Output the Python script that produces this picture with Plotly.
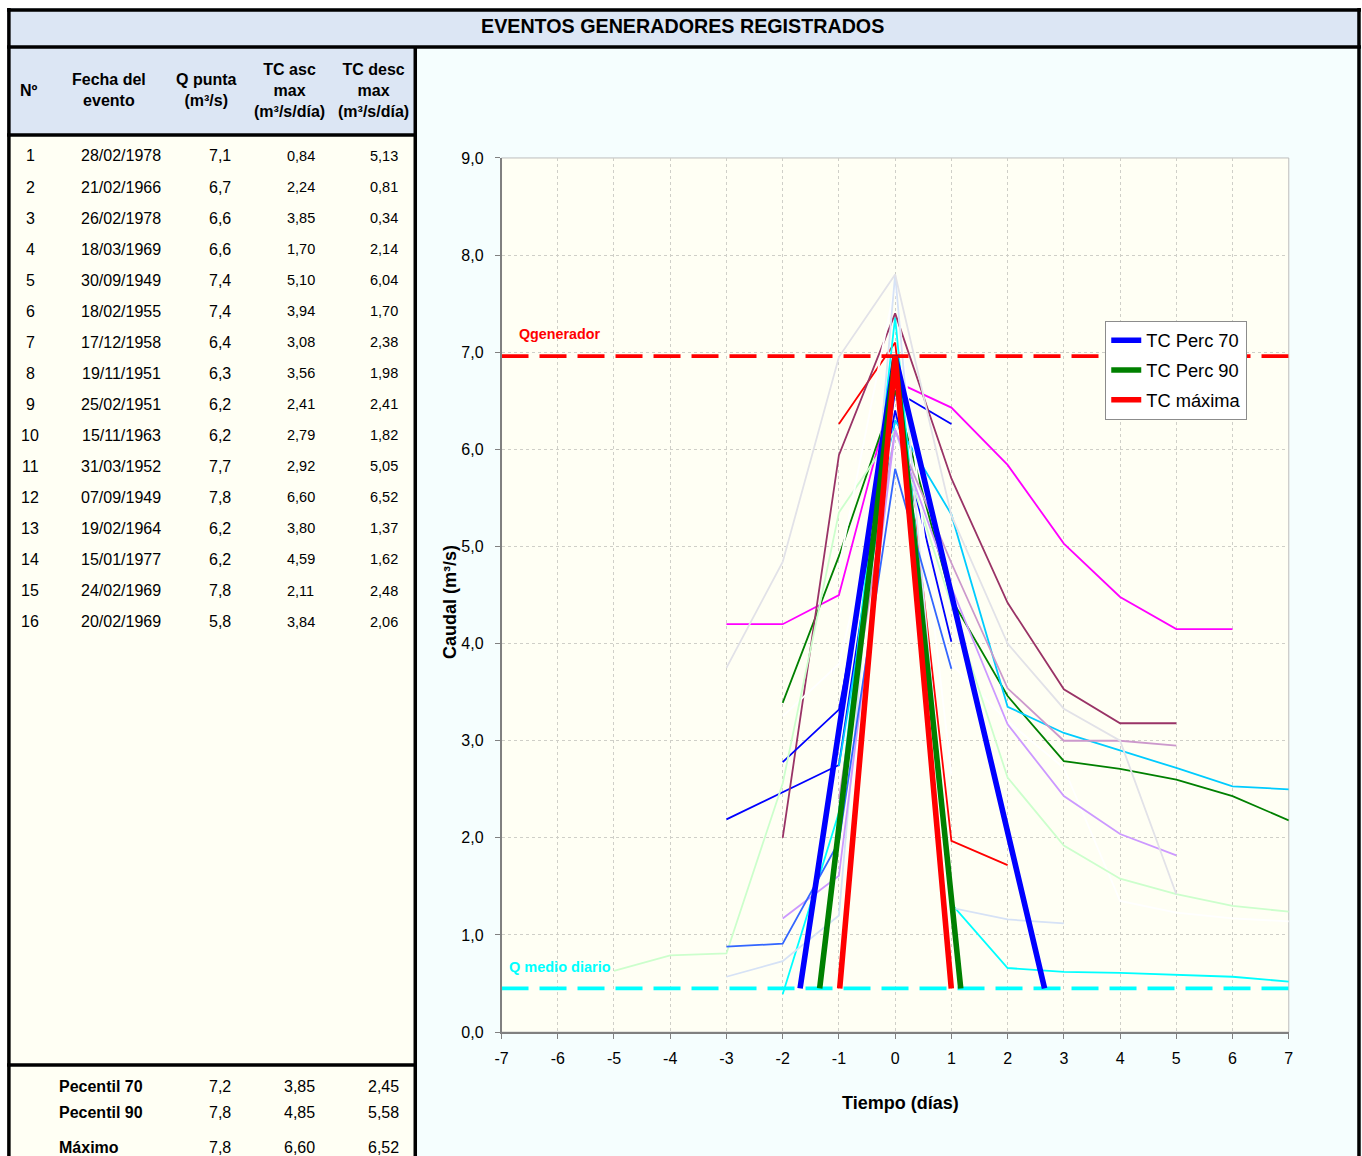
import plotly.graph_objects as go

# The photographed image maps page pixels p -> (p + 8) * (1362/1378, 1156/1172).
# All positions below are given in target-image pixels and converted to page pixels.
SX, SY = 1362 / 1378, 1156 / 1172
PAD = 8
W, H = 1370, 1164  # figure size (page px), figure placed at page (0, 0)
FONT = "Liberation Sans, Arial, sans-serif"

# ---------------- table data ----------------
nums = [1, 2, 3, 4, 5, 6, 7, 8, 9, 10, 11, 12, 13, 14, 15, 16]
fechas = ["28/02/1978", "21/02/1966", "26/02/1978", "18/03/1969", "30/09/1949", "18/02/1955",
          "17/12/1958", "19/11/1951", "25/02/1951", "15/11/1963", "31/03/1952", "07/09/1949",
          "19/02/1964", "15/01/1977", "24/02/1969", "20/02/1969"]
q_punta = [7.1, 6.7, 6.6, 6.6, 7.4, 7.4, 6.4, 6.3, 6.2, 6.2, 7.7, 7.8, 6.2, 6.2, 7.8, 5.8]
tc_asc = [0.84, 2.24, 3.85, 1.70, 5.10, 3.94, 3.08, 3.56, 2.41, 2.79, 2.92, 6.60, 3.80, 4.59, 2.11, 3.84]
tc_desc = [5.13, 0.81, 0.34, 2.14, 6.04, 1.70, 2.38, 1.98, 2.41, 1.82, 5.05, 6.52, 1.37, 1.62, 2.48, 2.06]

stat_names = ["Pecentil 70", "Pecentil 90", "Máximo"]
stat_q = [7.2, 7.8, 7.8]
stat_asc = [3.85, 4.85, 6.60]
stat_desc = [2.45, 5.58, 6.52]

q_generador = 6.96
q_medio = 0.45

# ---------------- event hydrographs (t in days, Q in m3/s) ----------------
ev1_t = [-1, 0, 1, 2];                       ev1_q = [6.26, 7.1, 1.97, 1.72]
ev2_t = [-3, -2, -1, 0, 1, 2, 3, 4, 5, 6];   ev2_q = [4.2, 4.2, 4.5, 6.7, 6.43, 5.84, 5.03, 4.48, 4.15, 4.15]
ev3_t = [-3, -2, -1, 0, 1];                  ev3_q = [2.19, 2.47, 2.75, 6.6, 6.26]
ev4_t = [-2, -1, 0, 1, 2, 3, 4, 5, 6, 7];    ev4_q = [3.39, 4.9, 6.6, 4.46, 3.46, 2.79, 2.71, 2.6, 2.43, 2.18]
ev5_t = [-2, -1, 0, 1, 2, 3, 4, 5, 6, 7];    ev5_q = [0.39, 2.26, 7.36, 1.32, 0.66, 0.62, 0.61, 0.59, 0.57, 0.52]
ev6_t = [-2, -1, 0, 1, 2, 3, 4, 5];          ev6_q = [2.0, 5.94, 7.4, 5.7, 4.42, 3.53, 3.18, 3.18]
ev7_t = [-2, -1, 0, 1];                      ev7_q = [2.78, 3.32, 6.4, 4.02]
ev8_t = [-1, 0, 1, 2, 3, 4, 5, 6, 7];        ev8_q = [2.74, 6.3, 5.33, 3.35, 3.08, 2.9, 2.72, 2.53, 2.5]
ev9_t = [-2, -1, 0, 1, 2, 3, 4, 5, 6, 7];    ev9_q = [3.25, 3.79, 6.2, 3.79, 3.2, 2.72, 1.35, 1.23, 1.17, 1.14]
ev10_t = [-5, -4, -3, -2, -1, 0, 1, 2, 3, 4, 5, 6, 7]
ev10_q = [0.63, 0.79, 0.81, 2.56, 5.35, 6.2, 4.4, 2.62, 1.92, 1.58, 1.42, 1.30, 1.24]
ev11_t = [-1, 0, 1];                         ev11_q = [4.78, 7.7, 2.65]
ev12_t = [-3, -2, -1, 0, 1, 2, 3];           ev12_q = [0.57, 0.73, 1.2, 7.8, 1.28, 1.16, 1.12]
ev13_t = [-1, 0, 1, 2, 3, 4, 5];             ev13_q = [2.4, 6.2, 4.83, 3.54, 3.0, 3.0, 2.95]
ev14_t = [-2, -1, 0, 1, 2, 3, 4, 5];         ev14_q = [1.17, 1.61, 6.2, 4.58, 3.17, 2.43, 2.04, 1.82]
ev15_t = [-3, -2, -1, 0, 1, 2, 3, 4, 5];     ev15_q = [3.75, 4.84, 6.95, 7.8, 5.32, 4.0, 3.33, 3.0, 1.42]
ev16_t = [-3, -2, -1, 0, 1];                 ev16_q = [0.88, 0.91, 1.96, 5.8, 3.74]

events = [
    (ev1_t, ev1_q, "#ff0000"), (ev2_t, ev2_q, "#ff00ff"), (ev3_t, ev3_q, "#0000ff"),
    (ev4_t, ev4_q, "#008000"), (ev5_t, ev5_q, "#00ffff"), (ev6_t, ev6_q, "#993366"),
    (ev7_t, ev7_q, "#0000ff"), (ev8_t, ev8_q, "#00ccff"), (ev9_t, ev9_q, "#ffffff"),
    (ev10_t, ev10_q, "#ccffcc"), (ev11_t, ev11_q, "#ffffff"), (ev12_t, ev12_q, "#d6e2f6"),
    (ev13_t, ev13_q, "#cc99cc"), (ev14_t, ev14_q, "#cc99ff"), (ev15_t, ev15_q, "#e2e2e8"),
    (ev16_t, ev16_q, "#3366ff"),
]

x_ticks = [-7, -6, -5, -4, -3, -2, -1, 0, 1, 2, 3, 4, 5, 6, 7]
x_ticklabels = ["-7", "-6", "-5", "-4", "-3", "-2", "-1", "0", "1", "2", "3", "4", "5", "6", "7"]
y_ticks = [0, 1, 2, 3, 4, 5, 6, 7, 8, 9]

legend_names = ["TC Perc 70", "TC Perc 90", "TC máxima"]
legend_colors = ["#0000ff", "#008000", "#ff0000"]


def fx(x):
    return (x / SX - PAD) / W


def fy(y):
    return 1 - (y / SY - PAD) / H


def fmt(v, d):
    return f"{v:.{d}f}".replace(".", ",")


fig = go.Figure()

for t, q, c in events:
    fig.add_trace(go.Scatter(x=t, y=q, mode="lines", line=dict(color=c, width=1.8),
                             showlegend=False, hoverinfo="skip"))

fig.add_trace(go.Scatter(x=[-7, 7], y=[q_generador, q_generador], mode="lines",
                         line=dict(color="#ff0000", width=3.6, dash="27px,11px"),
                         showlegend=False, hoverinfo="skip"))
fig.add_trace(go.Scatter(x=[-7, 7], y=[q_medio, q_medio], mode="lines",
                         line=dict(color="#00ffff", width=3.6, dash="27px,11px"),
                         showlegend=False, hoverinfo="skip"))

drop = q_generador - q_medio
for name, col, a, d in zip(legend_names, legend_colors, stat_asc, stat_desc):
    fig.add_trace(go.Scatter(x=[-drop / a, 0, drop / d], y=[q_medio, q_generador, q_medio],
                             mode="lines", name=name, legendgroup=name,
                             line=dict(color=col, width=5.6), hoverinfo="skip"))

shapes = []


def rect(x0, y0, x1, y1, fill, line=None):
    return dict(type="rect", xref="paper", yref="paper", x0=fx(x0), x1=fx(x1), y0=fy(y1), y1=fy(y0),
                fillcolor=fill, line=line or dict(width=0), layer="below")


shapes.append(rect(415, 47, 1362, 1170, "#f5fefe"))
shapes.append(rect(501, 158, 1286, 1033, "#fffff4", dict(color="#bdbdbd", width=1)))
shapes.append(rect(8, 8, 1356, 47, "#dce6f4"))
shapes.append(rect(8, 47, 415, 135, "#dce6f4"))
shapes.append(rect(8, 135, 415, 1170, "#fffff4"))


def hline(y, x0, x1, w=3.5):
    return dict(type="line", xref="paper", yref="paper", x0=fx(x0), x1=fx(x1), y0=fy(y), y1=fy(y),
                line=dict(color="black", width=w))


def vline(x, y0, y1, w=3.5):
    return dict(type="line", xref="paper", yref="paper", x0=fx(x), x1=fx(x), y0=fy(y0), y1=fy(y1),
                line=dict(color="black", width=w))


shapes += [hline(9.8, 8, 1358), hline(47, 8, 1358), hline(135, 8, 415), hline(1066, 8, 415),
           vline(9.8, 8, 1170), vline(1356, 8, 1170), vline(415, 47, 1170)]

ann = []


def text(x, y, s, size=15, bold=False, color="black", xanchor="center", angle=0):
    if bold:
        s = f"<b>{s}</b>"
    ann.append(dict(x=fx(x), y=fy(y), xref="paper", yref="paper", text=s, showarrow=False,
                    xanchor=xanchor, yanchor="middle", textangle=angle,
                    font=dict(family=FONT, size=size, color=color)))


text(681, 26, "EVENTOS GENERADORES REGISTRADOS", size=19.7, bold=True)
text(30, 90, "Nº", size=16, bold=True)
text(110, 90, "<b>Fecha del</b><br><b>evento</b>", size=16)
text(207, 90, "<b>Q punta</b><br><b>(m³/s)</b>", size=16)
text(290, 90, "<b>TC asc</b><br><b>max</b><br><b>(m³/s/día)</b>", size=16)
text(373, 90, "<b>TC desc</b><br><b>max</b><br><b>(m³/s/día)</b>", size=16)

for i in range(len(nums)):
    y = 156 + i * 31.07
    text(31, y, str(nums[i]), size=16)
    text(122, y, fechas[i], size=16)
    text(220, y, fmt(q_punta[i], 1), size=16)
    text(301, y, fmt(tc_asc[i], 2), size=14.5)
    text(384, y, fmt(tc_desc[i], 2), size=14.5)

for i, yy in enumerate([1087, 1113, 1148]):
    text(58, yy, stat_names[i], size=16, bold=True, xanchor="left")
    text(220, yy, fmt(stat_q[i], 1), size=16)
    text(300, yy, fmt(stat_asc[i], 2), size=16)
    text(383, yy, fmt(stat_desc[i], 2), size=16)

text(516, 334, "Qgenerador", size=14.3, bold=True, color="#ff0000", xanchor="left")
text(506, 968, "Q medio diario", size=14.5, bold=True, color="#00ffff", xanchor="left")
text(449, 602, "Caudal (m³/s)", size=18, bold=True, angle=-90)
text(899, 1104, "Tiempo (días)", size=18, bold=True)

fig.update_layout(
    width=W, height=H, margin=dict(l=0, r=0, t=0, b=0),
    paper_bgcolor="white", plot_bgcolor="rgba(0,0,0,0)",
    separators=",.",
    shapes=shapes, annotations=ann,
    font=dict(family=FONT, size=16, color="black"),
    xaxis=dict(domain=[fx(501), fx(1286)], range=[-7, 7], tickvals=x_ticks, ticktext=x_ticklabels,
               showgrid=True, gridcolor="#cfcfc8", griddash="dot", gridwidth=1, zeroline=False,
               showline=True, linecolor="#808080", linewidth=1.5, ticks="outside", ticklen=5,
               tickcolor="#808080", tickfont=dict(size=16, family=FONT), ticklabelstandoff=6),
    yaxis=dict(domain=[fy(1033), fy(158)], range=[0, 9], tickvals=y_ticks, tickformat=".1f",
               showgrid=True, gridcolor="#cfcfc8", griddash="dot", gridwidth=1, zeroline=False,
               showline=True, linecolor="#808080", linewidth=1.5, ticks="outside", ticklen=5,
               tickcolor="#808080", tickfont=dict(size=16, family=FONT), ticklabelstandoff=8),
    legend=dict(x=fx(1103), y=fy(321), xanchor="left", yanchor="top", bgcolor="white",
                bordercolor="#8c8c8c", borderwidth=1, font=dict(size=18.3, family=FONT),
                tracegroupgap=3, itemwidth=30),
)

fig.write_html("out.html", config={"displayModeBar": False},
               post_script="document.body.style.margin='0px';document.body.style.overflow='hidden';"
                           "document.documentElement.style.overflow='hidden';")
